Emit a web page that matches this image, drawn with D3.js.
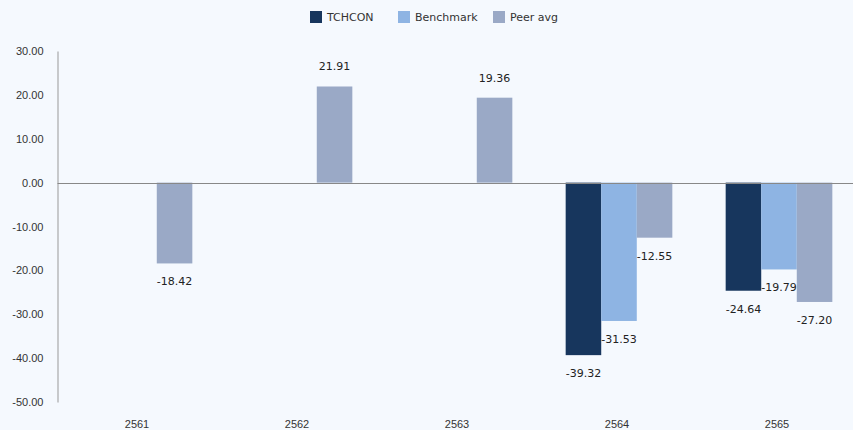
<!DOCTYPE html>
<html>
<head>
<meta charset="utf-8">
<script src="https://cdn.jsdelivr.net/npm/d3@7"></script>
<style>
  html, body { margin: 0; padding: 0; background: #f5f9fe; }
  svg { display: block; font-family: "DejaVu Sans", sans-serif; }
</style>
</head>
<body>
<svg width="853" height="430"></svg>
<script>
// values
const years = ['2561', '2562', '2563', '2564', '2565'];
const seriesNames = ['TCHCON', 'Benchmark', 'Peer avg'];
const tchcon = [null, null, null, -39.32, -24.64];
const benchmark = [null, null, null, -31.53, -19.79];
const peerAvg = [-18.42, 21.91, 19.36, -12.55, -27.20];
const colors = ['#17365d', '#8eb4e3', '#9aa9c6'];
const yTicks = [30, 20, 10, 0, -10, -20, -30, -40, -50];

const svg = d3.select('svg');
const width = +svg.attr('width');
const fmt = v => d3.format('.2f')(v).replace('\u2212', '-');

const x = d3.scaleBand().domain(years).range([57, 857]).paddingInner(0).paddingOuter(0);
const x1 = d3.scaleBand().domain(seriesNames).range([2, x.bandwidth() + 2]).paddingOuter(0.75);
const y = d3.scaleLinear().domain([-50, 30]).range([402, 51]);

const rows = years.map((yr, i) => ({
  year: yr,
  vals: [tchcon[i], benchmark[i], peerAvg[i]].map((v, j) => ({ name: seriesNames[j], v, c: colors[j] }))
}));

// y axis
const yAxis = svg.append('g')
  .attr('transform', 'translate(57.5,0)')
  .call(d3.axisLeft(y).tickValues(yTicks).tickSize(0).tickPadding(14).tickFormat(fmt));
yAxis.select('.domain').attr('stroke', '#999').attr('stroke-width', 1);
yAxis.selectAll('text').attr('font-size', 11).attr('fill', '#333');

// bars
const g = svg.selectAll('.grp').data(rows).join('g')
  .attr('transform', d => `translate(${x(d.year)},0)`);

g.selectAll('rect').data(d => d.vals.filter(e => e.v !== null)).join('rect')
  .attr('x', d => x1(d.name))
  .attr('width', x1.bandwidth())
  .attr('y', d => y(Math.max(0, d.v)))
  .attr('height', d => Math.abs(y(d.v) - y(0)))
  .attr('fill', d => d.c);

g.selectAll('text.lbl').data(d => d.vals.filter(e => e.v !== null)).join('text')
  .attr('class', 'lbl')
  .attr('x', d => x1(d.name) + x1.bandwidth() / 2)
  .attr('y', d => d.v >= 0 ? y(d.v) - 20 : y(d.v) + 18)
  .attr('dy', '0.35em')
  .attr('text-anchor', 'middle')
  .attr('font-size', 11)
  .attr('fill', '#222')
  .text(d => fmt(d.v));

// zero line
svg.append('line')
  .attr('x1', 57.5).attr('x2', width)
  .attr('y1', Math.round(y(0)) + 0.5).attr('y2', Math.round(y(0)) + 0.5)
  .attr('stroke', '#888').attr('stroke-width', 1);

// x labels
const xAxis = svg.append('g')
  .attr('transform', 'translate(0,424)')
  .call(d3.axisBottom(x).tickSize(0).tickPadding(0));
xAxis.select('.domain').remove();
xAxis.selectAll('text').attr('dy', '0.35em').attr('font-size', 11).attr('fill', '#333');

// legend
const legendX = [310, 398, 493];
const legend = svg.append('g').selectAll('g').data(seriesNames).join('g')
  .attr('transform', (d, i) => `translate(${legendX[i]},11)`);
legend.append('rect').attr('width', 12).attr('height', 12).attr('fill', (d, i) => colors[i]);
legend.append('text').attr('x', 17).attr('y', 6).attr('dy', '0.35em')
  .attr('font-size', 11).attr('fill', '#333').text(d => d);
</script>
</body>
</html>
